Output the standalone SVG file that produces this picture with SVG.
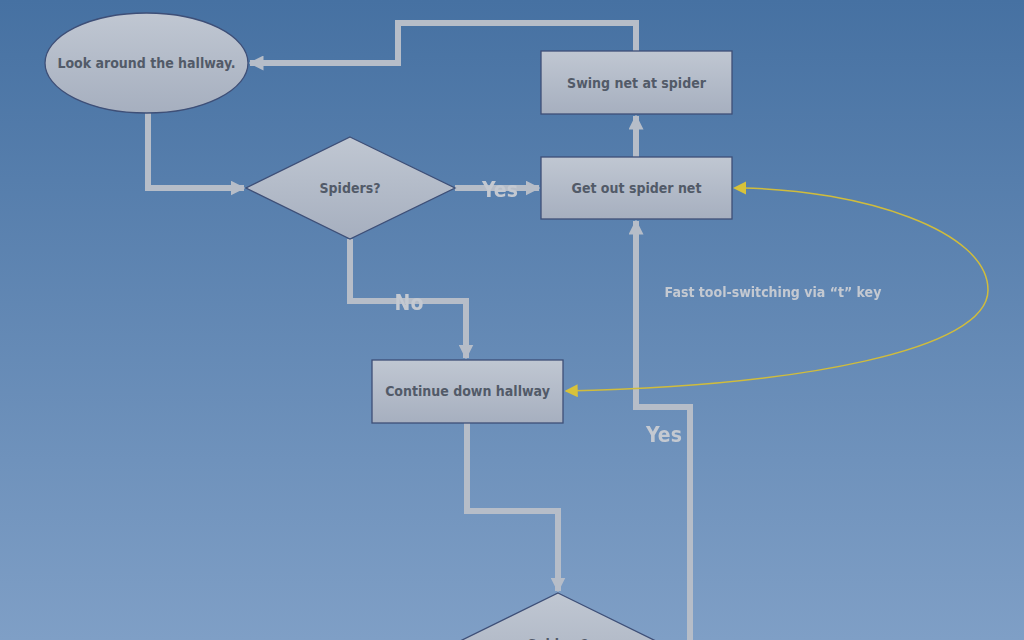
<svg xmlns="http://www.w3.org/2000/svg" width="1024" height="640" viewBox="0 0 1024 640">
<defs>
<linearGradient id="bg" x1="0" y1="0" x2="0" y2="1">
<stop offset="0" stop-color="#4671a2"/>
<stop offset="1" stop-color="#7f9fc6"/>
</linearGradient>
<linearGradient id="nodeFill" x1="0" y1="0" x2="0" y2="1">
<stop offset="0" stop-color="#c0c7d2"/>
<stop offset="1" stop-color="#a6afbf"/>
</linearGradient>
<filter id="soft" x="-10%" y="-30%" width="120%" height="160%">
<feGaussianBlur stdDeviation="0.7"/>
</filter>
<marker id="ag" viewBox="0 0 10 10" refX="9" refY="5" markerUnits="userSpaceOnUse" markerWidth="15" markerHeight="15" orient="auto">
<path d="M0,0 L10,5 L0,10 z" fill="#b6bdc8"/>
</marker>
<marker id="ay" viewBox="0 0 10 10" refX="9" refY="5" markerUnits="userSpaceOnUse" markerWidth="13" markerHeight="13" orient="auto">
<path d="M0,0 L10,5 L0,10 z" fill="#d8c23a"/>
</marker>
</defs>
<style>
.node{fill:url(#nodeFill);stroke:#3e4f77;stroke-width:1.3}
.lbl{font-family:"DejaVu Sans Condensed","Liberation Sans",sans-serif;font-weight:bold;font-size:14px;fill:#525a68;text-anchor:middle}
.con{fill:none;stroke:#b6bdc8;stroke-width:6}
.clbl{font-family:"DejaVu Sans Condensed","Liberation Sans",sans-serif;font-weight:bold;fill:#c4c9d1;text-anchor:middle;filter:url(#soft)}
.yel{fill:none;stroke:#d0bc3c;stroke-width:1.5}
</style>
<rect width="1024" height="640" fill="url(#bg)"/>
<g id="connectors">
<path class="con" d="M148,113 V188 H244" marker-end="url(#ag)"/>
<path class="con" d="M455,188 H539" marker-end="url(#ag)"/>
<path class="con" d="M636,157 V116" marker-end="url(#ag)"/>
<path class="con" d="M636,51 V23 H398 V63 H250" marker-end="url(#ag)"/>
<path class="con" d="M350,239 V301 H466 V358" marker-end="url(#ag)"/>
<path class="con" d="M467,423 V511 H558 V591" marker-end="url(#ag)"/>
<path class="con" d="M662,644 H690 V407 H636 V221" marker-end="url(#ag)"/>
<path class="yel" d="M743,188 C860,190 988,230 988,290 C988,350 800,386 566,391" marker-end="url(#ay)"/>
<path d="M733,188 L746,181.5 L746,194.5 z" fill="#d8c23a"/>
<text class="clbl" x="500" y="197" font-size="21">Yes</text>
<text class="clbl" x="409" y="310" font-size="21">No</text>
<text class="clbl" x="664" y="442" font-size="21">Yes</text>
<text class="clbl" x="773" y="297" font-size="14">Fast tool-switching via “t” key</text>
</g>
<g id="look">
<ellipse class="node" cx="146.5" cy="63" rx="101.5" ry="50"/>
<text class="lbl" x="146.5" y="68">Look around the hallway.</text>
</g>
<g id="spiders1">
<polygon class="node" points="350,137 455,188 350,239 246,188"/>
<text class="lbl" x="350" y="193">Spiders?</text>
</g>
<g id="swing">
<rect class="node" x="541" y="51" width="191" height="63"/>
<text class="lbl" x="636.5" y="88">Swing net at spider</text>
</g>
<g id="getnet">
<rect class="node" x="541" y="157" width="191" height="62"/>
<text class="lbl" x="636.5" y="193">Get out spider net</text>
</g>
<g id="continue">
<rect class="node" x="372" y="360" width="191" height="63"/>
<text class="lbl" x="467.5" y="396">Continue down hallway</text>
</g>
<g id="spiders2">
<polygon class="node" points="558,593 662,644 558,695 454,644"/>
<text class="lbl" x="558" y="649">Spiders?</text>
</g>
</svg>
